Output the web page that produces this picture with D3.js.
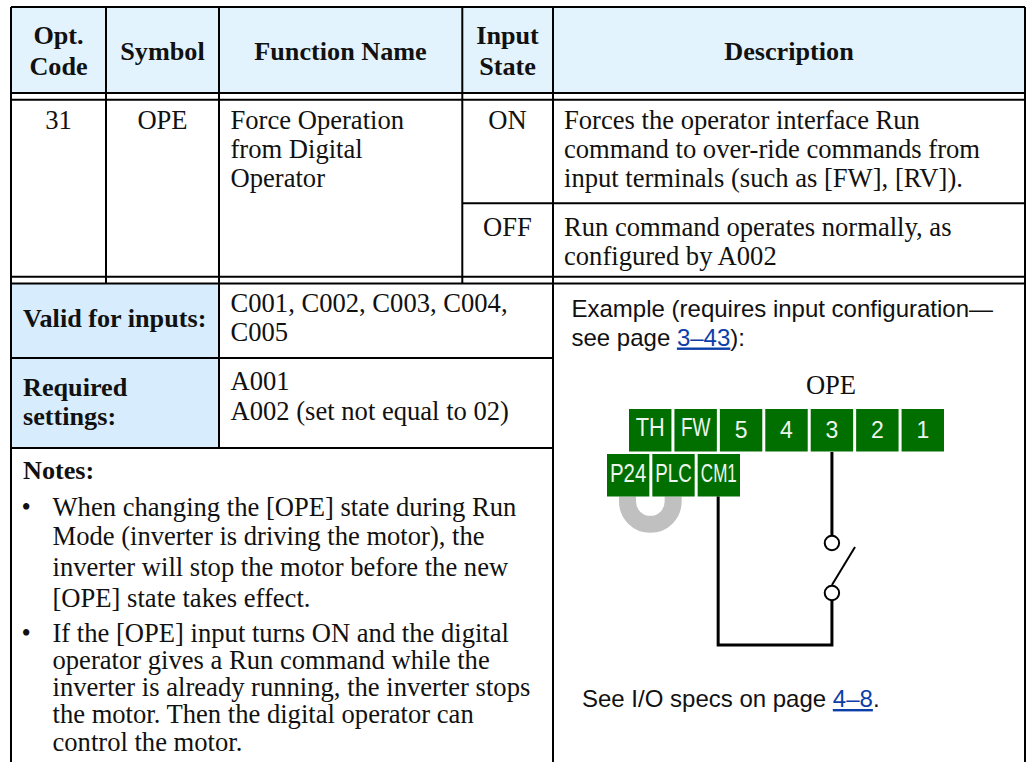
<!DOCTYPE html>
<html>
<head>
<meta charset="utf-8">
<script src="https://cdnjs.cloudflare.com/ajax/libs/d3/7.8.5/d3.min.js"></script>
<style>
  html, body { margin: 0; padding: 0; background: #fff; }
  svg { display: block; }
  .serif { font-family: "Liberation Serif", serif; font-size: 26.6px; fill: #111; }
  .bold { font-weight: bold; font-size: 26.2px; }
  .sans { font-family: "Liberation Sans", sans-serif; font-size: 24px; fill: #111; }
  .link { fill: #0b3ea8; text-decoration: underline; }
  .term { font-family: "Liberation Sans", sans-serif; fill: #eef5ee; text-anchor: middle; }
</style>
</head>
<body>
<div id="chart"></div>
<script>
// table text
var headers = [["Opt.", "Code"], ["Symbol"], ["Function Name"], ["Input", "State"], ["Description"]];
var optCode = "31";
var symbol = "OPE";
var functionName = ["Force Operation", "from Digital", "Operator"];
var inputStates = ["ON", "OFF"];
var descriptions = [
    ["Forces the operator interface Run", "command to over-ride commands from", "input terminals (such as [FW], [RV])."],
    ["Run command operates normally, as", "configured by A002"]
];
var validLabel = "Valid for inputs:";
var validValues = ["C001, C002, C003, C004,", "C005"];
var requiredLabel = ["Required", "settings:"];
var requiredValues = ["A001", "A002 (set not equal to 02)"];
var notesLabel = "Notes:";
var notes = [
    ["When changing the [OPE] state during Run", "Mode (inverter is driving the motor), the", "inverter will stop the motor before the new", "[OPE] state takes effect."],
    ["If the [OPE] input turns ON and the digital", "operator gives a Run command while the", "inverter is already running, the inverter stops", "the motor. Then the digital operator can", "control the motor."]
];

// wiring example
var terminalsTop = ["TH", "FW", "5", "4", "3", "2", "1"];
var terminalsBottom = ["P24", "PLC", "CM1"];
var wiredTop = "3";
var wiredBottom = "CM1";

var svgWidth = 1026;
var svgHeight = 762;

// rule positions
var col = { left: 11, a: 106, b: 219, c: 462.3, d: 553, right: 1025 };
var row = { top: 7, head: 93, head2: 99.7, mid: 203.3, body: 276.8, body2: 283.6, req: 358, notes: 448 };

var svg = d3.select("#chart").append("svg")
    .attr("width", svgWidth)
    .attr("height", svgHeight);

// Cell fills
svg.append("rect").attr("x", col.left).attr("y", row.top)
    .attr("width", col.right - col.left).attr("height", row.head - row.top).attr("fill", "#e3f3fe");
svg.append("rect").attr("x", col.left).attr("y", row.body2)
    .attr("width", col.b - col.left).attr("height", row.notes - row.body2).attr("fill", "#d7edfd");

// Rules
var rules = [
    [col.left, row.top, col.right, row.top],
    [col.left, row.head, col.right, row.head],
    [col.left, row.head2, col.right, row.head2],
    [col.left, row.body, col.right, row.body],
    [col.left, row.body2, col.right, row.body2],
    [col.c, row.mid, col.right, row.mid],
    [col.left, row.req, col.d, row.req],
    [col.left, row.notes, col.d, row.notes],
    [col.left, row.top, col.left, svgHeight],
    [col.a, row.top, col.a, row.body2],
    [col.b, row.top, col.b, row.notes],
    [col.c, row.top, col.c, row.body2],
    [col.d, row.top, col.d, svgHeight],
    [col.right, row.top, col.right, svgHeight]
];
svg.append("g").selectAll("line")
    .data(rules)
    .enter()
    .append("line")
    .attr("x1", d => d[0]).attr("y1", d => d[1])
    .attr("x2", d => d[2]).attr("y2", d => d[3])
    .attr("stroke", "#000")
    .attr("stroke-width", 2);

// helper: stacked lines of text
function addLines(lines, x, ys, cls, anchor) {
    svg.append("g").selectAll("text")
        .data(lines)
        .enter()
        .append("text")
        .attr("class", cls)
        .attr("x", x)
        .attr("y", (d, i) => ys[i])
        .attr("text-anchor", anchor || "start")
        .text(d => d);
}

// Header
var headCenters = [58.5, 162.5, 340.5, 507.5, 789];
headers.forEach(function(h, i) {
    var ys = h.length == 2 ? [44, 75] : [59.5];
    addLines(h, headCenters[i], ys, "serif bold", "middle");
});

// Body
addLines([optCode], headCenters[0], [128.5], "serif", "middle");
addLines([symbol], headCenters[1], [128.5], "serif", "middle");
addLines(functionName, 230.5, [128.5, 157.5, 187], "serif");
addLines(inputStates, headCenters[3], [128.5, 235.5], "serif", "middle");
addLines(descriptions[0], 564, [128.5, 157.5, 187], "serif");
addLines(descriptions[1], 564, [235.5, 264.5], "serif");

// Lower left block
addLines([validLabel], 23, [327], "serif bold");
addLines(validValues, 230.5, [312, 340.5], "serif");
addLines(requiredLabel, 23, [395.5, 424.5], "serif bold");
addLines(requiredValues, 230.5, [389.5, 419.5], "serif");
addLines([notesLabel], 23, [478.5], "serif bold");

var noteYs = [[515.5, 544.5, 576, 606.5], [641.5, 668.5, 695.5, 722.5, 750.5]];
notes.forEach(function(n, i) {
    addLines(["\u2022"], 21.5, [noteYs[i][0]], "serif");
    addLines(n, 52.5, noteYs[i], "serif");
});

// Right block text
var example = svg.append("text").attr("class", "sans").attr("x", 571.5).attr("y", 317);
example.text("Example (requires input configuration\u2014");
var seePage = svg.append("text").attr("class", "sans").attr("x", 571.5).attr("y", 345.5);
seePage.append("tspan").text("see page ");
seePage.append("tspan").attr("class", "link").text("3\u201343");
seePage.append("tspan").text("):");
var seeSpecs = svg.append("text").attr("class", "sans").attr("x", 582).attr("y", 707);
seeSpecs.append("tspan").text("See I/O specs on page ");
seeSpecs.append("tspan").attr("class", "link").text("4\u20138");
seeSpecs.append("tspan").text(".");
addLines([symbol], 831, [393.5], "serif", "middle");

// Terminal scales
var xTop = d3.scaleBand().domain(terminalsTop).range([629, 944]).paddingInner(0.066);
var xBottom = d3.scaleBand().domain(terminalsBottom).range([607, 740]).paddingInner(0.066);
var topY = 409, bottomY = 454, boxH = 42.5;
var labelWidth = { TH: 29, FW: 29.5, P24: 36.5, PLC: 36.5, CM1: 36 };

// Jumper bar sits behind the terminals
var jumpX0 = xBottom("P24") + 20.5;
var jumpX1 = xBottom("PLC") + xBottom.bandwidth() - 21.5;
var jumper = d3.path();
jumper.moveTo(jumpX0, bottomY + boxH);
jumper.lineTo(jumpX0, 501.5);
jumper.arc((jumpX0 + jumpX1) / 2, 501.5, (jumpX1 - jumpX0) / 2, Math.PI, 0, true);
jumper.lineTo(jumpX1, bottomY + boxH);
svg.append("path").attr("d", jumper.toString())
    .attr("fill", "none").attr("stroke", "#c0c0c0").attr("stroke-width", 17);

function addTerminals(list, x, y, fontSize, baseline) {
    var g = svg.append("g").selectAll("g")
        .data(list)
        .enter()
        .append("g");
    g.append("rect")
        .attr("x", d => x(d))
        .attr("y", y)
        .attr("width", x.bandwidth())
        .attr("height", boxH)
        .attr("fill", "#006f00");
    g.append("text")
        .attr("class", "term")
        .attr("x", d => x(d) + x.bandwidth() / 2)
        .attr("y", d => labelWidth[d] ? baseline - 2 : baseline)
        .attr("font-size", fontSize)
        .each(function(d) {
            if (labelWidth[d]) {
                d3.select(this)
                    .attr("textLength", labelWidth[d])
                    .attr("lengthAdjust", "spacingAndGlyphs")
                    .attr("font-size", 25);
            }
        })
        .text(d => d);
}
addTerminals(terminalsTop, xTop, topY, 23, 438);
addTerminals(terminalsBottom, xBottom, bottomY, 25, 483.5);

// Wiring
var wireX = xTop(wiredTop) + xTop.bandwidth() / 2;
var commonX = xBottom(wiredBottom) + 20.5;
var wire = d3.path();
wire.moveTo(wireX, 452);
wire.lineTo(wireX, 536);
wire.moveTo(wireX, 600.5);
wire.lineTo(wireX, 645);
wire.lineTo(commonX, 645);
wire.lineTo(commonX, bottomY + boxH);
svg.append("path").attr("d", wire.toString())
    .attr("fill", "none").attr("stroke", "#000").attr("stroke-width", 3);

svg.append("line")
    .attr("x1", wireX).attr("y1", 585)
    .attr("x2", 855).attr("y2", 547)
    .attr("stroke", "#000").attr("stroke-width", 2);

svg.append("g").selectAll("circle")
    .data([543, 593])
    .enter()
    .append("circle")
    .attr("cx", wireX)
    .attr("cy", d => d)
    .attr("r", 7.2)
    .attr("fill", "#fff")
    .attr("stroke", "#000")
    .attr("stroke-width", 2);
</script>
</body>
</html>
